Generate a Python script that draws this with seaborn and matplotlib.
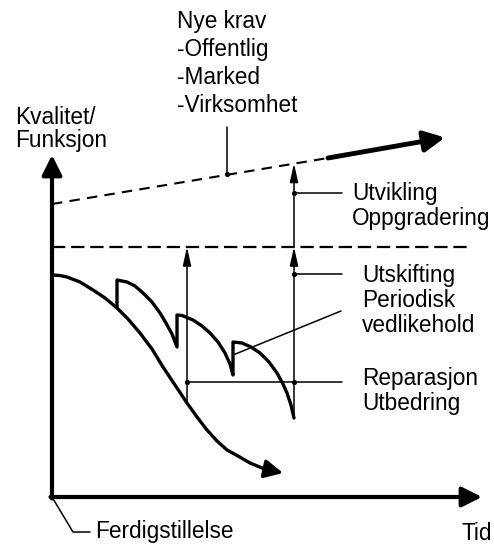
import seaborn as sns
import matplotlib.pyplot as plt

# curve values, time (t) vs quality (q), origin at the axis corner
base_t = [0, 8, 15, 28, 41, 53, 65, 76, 88, 100, 111, 123, 135, 145, 155, 165, 175, 186, 198, 210, 222]
base_q = [222, 221.5, 220, 215, 207, 199, 189, 178, 164, 148, 130, 112, 94, 80, 67, 56, 47, 41, 34, 29, 26]
base_tip = (231, 24)

maint_t = [65, 65, 75, 83, 91, 100, 108, 114, 120, 125,
           125, 130, 141, 150, 158, 166, 173, 178, 181,
           181, 190, 199, 208, 217, 225, 231, 235, 239, 242]
maint_q = [189, 217, 215, 211, 204, 195, 184, 174, 163, 150,
           182, 181.5, 177, 171, 164, 155, 144, 133, 122,
           155, 154, 150, 144, 135, 124, 113, 104, 92, 79]

demand_t = [0, 276]
demand_q = [293, 339]
future_t = [276, 393]
future_q = [339, 359.5]

target_t = [0, 415]
target_q = [250, 250]

# vertical measures: (t, from q, to q)
arrows = [(135, 94, 250), (242, 79, 250), (242, 250, 333.5)]

# leader lines
leaders = [
    ([135, 290], [115, 115]),
    ([242, 290], [223, 223]),
    ([242, 290], [304, 304]),
    ([181, 289], [142, 186]),
    ([175, 175], [323, 370]),
    ([0, 21, 38], [0, -35, -35]),
]
dot_t = [135, 242, 242, 242, 175]
dot_q = [115, 115, 223, 304, 323]

# text, left t, baseline q of the last line, line spacing
labels = [
    ("Nye krav\n-Offentlig\n-Marked\n-Virksomhet", 125, 385, 1.28),
    ("Kvalitet/\nFunksjon", -37, 350, 1.0),
    ("Utvikling\nOppgradering", 300, 272, 1.1),
    ("Utskifting", 310, 215, 1.1),
    ("Periodisk\nvedlikehold", 310, 165, 1.1),
    ("Reparasjon\nUtbedring", 310, 87, 1.1),
    ("Ferdigstillelse", 43, -41, 1.1),
    ("Tid", 409, -43, 1.1),
]

sns.set_style("white")
plt.rcParams['font.family'] = ['Liberation Sans', 'DejaVu Sans']

fig = plt.figure(figsize=(4.94, 5.45), dpi=100)
ax = fig.add_axes([0, 0, 1, 1])

k = 'black'
sns.lineplot(x=base_t, y=base_q, sort=False, estimator=None, color=k, lw=2.4, ax=ax)
ax.annotate('', xy=base_tip, xytext=(base_t[-1], base_q[-1]),
            arrowprops=dict(arrowstyle='-|>,head_length=0.7,head_width=0.35', mutation_scale=16,
                            color=k, lw=2.4, shrinkA=0, shrinkB=0))
sns.lineplot(x=maint_t, y=maint_q, sort=False, estimator=None, color=k, lw=2.4, ax=ax)

sns.lineplot(x=demand_t, y=demand_q, sort=False, estimator=None, color=k, lw=1.5,
             linestyle=(0, (5, 3.5)), ax=ax)
ax.annotate('', xy=(future_t[1], future_q[1]), xytext=(future_t[0], future_q[0]),
            arrowprops=dict(arrowstyle='-|>,head_length=0.7,head_width=0.35', mutation_scale=18,
                            color=k, lw=3.5, shrinkA=0, shrinkB=0))
sns.lineplot(x=target_t, y=target_q, sort=False, estimator=None, color=k, lw=1.6,
             linestyle=(0, (6, 2.6)), ax=ax)

for t, q0, q1 in arrows:
    ax.annotate('', xy=(t, q1), xytext=(t, q0),
                arrowprops=dict(arrowstyle='-|>,head_length=0.8,head_width=0.18', mutation_scale=14,
                                color=k, lw=1.1, shrinkA=0, shrinkB=0))

for lt, lq in leaders:
    sns.lineplot(x=lt, y=lq, sort=False, estimator=None, color=k, lw=1.1, ax=ax)
sns.scatterplot(x=dot_t, y=dot_q, color=k, s=14, linewidth=0, ax=ax, zorder=5)

# axes with arrows
ax.annotate('', xy=(0, 342), xytext=(0, -1.5),
            arrowprops=dict(arrowstyle='-|>,head_length=0.6,head_width=0.3', mutation_scale=20,
                            color=k, lw=3, shrinkA=0, shrinkB=0))
ax.annotate('', xy=(430, 0), xytext=(-1.5, 0),
            arrowprops=dict(arrowstyle='-|>,head_length=0.6,head_width=0.3', mutation_scale=20,
                            color=k, lw=3, shrinkA=0, shrinkB=0))

for txt, t, q, ls in labels:
    ax.text(t, q, txt, fontsize=16.3, ha='left', va='baseline', linespacing=ls, color=k)

ax.set_xlim(-52, 442)
ax.set_ylim(-48, 497)
ax.axis('off')
fig.savefig('out.png', dpi=100)
